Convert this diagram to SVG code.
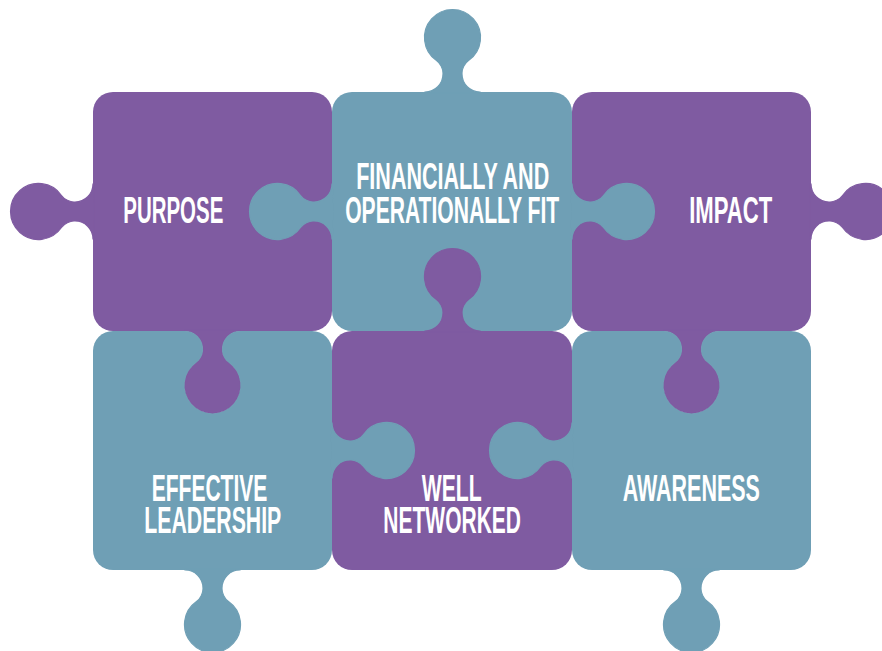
<svg xmlns="http://www.w3.org/2000/svg" xmlns:xlink="http://www.w3.org/1999/xlink" width="882" height="651" viewBox="0 0 882 651">
  <defs>
    <style>
      .purple { fill: #7F5BA1; }
      .teal { fill: #6F9FB5; }
      .tab-purple { fill: #7F5BA1; stroke: #7F5BA1; stroke-width: 1.2; }
      .tab-teal { fill: #6F9FB5; stroke: #6F9FB5; stroke-width: 1.2; }
      .label { fill: #FFFFFF; font-family: "Liberation Sans Narrow", "Liberation Sans", Arial, sans-serif; font-weight: bold; font-size: 36px; text-anchor: middle; }
    </style>
    <path id="tab" d="M -27.5,1 L -27.5,0 A 18 18 0 0 0 -9.5,-18 L -9.5,-19 C -9.5,-23 -11.9,-28.65 -16,-31.5 A 28 28 0 1 1 16,-31.5 C 11.9,-28.65 9.5,-23 9.5,-19 L 9.5,-18 A 18 18 0 0 0 27.5,0 L 27.5,1 Z"/>
    <mask id="mask-effective" maskUnits="userSpaceOnUse" x="0" y="0" width="882" height="651">
      <rect x="0" y="0" width="882" height="651" fill="#fff"/>
      <use xlink:href="#tab" href="#tab" transform="translate(212.5,331) rotate(180)" fill="#000"/>
    </mask>
    <mask id="mask-awareness" maskUnits="userSpaceOnUse" x="0" y="0" width="882" height="651">
      <rect x="0" y="0" width="882" height="651" fill="#fff"/>
      <use xlink:href="#tab" href="#tab" transform="translate(691.5,331) rotate(180)" fill="#000"/>
    </mask>
  </defs>

  <g id="node-purpose">
    <rect class="purple" x="93" y="92" width="239" height="239" rx="20"/>
    <use class="tab-purple" href="#tab" transform="translate(93,211.5) rotate(-90)"/>
    <use class="tab-purple" href="#tab" transform="translate(212.5,331) rotate(180)"/>
    <text class="label" x="173.3" y="223.3" textLength="100" lengthAdjust="spacingAndGlyphs">PURPOSE</text>
  </g>

  <g id="node-impact">
    <rect class="purple" x="572" y="92" width="239" height="239" rx="20"/>
    <use class="tab-purple" href="#tab" transform="translate(811,211.5) rotate(90)"/>
    <use class="tab-purple" href="#tab" transform="translate(691.5,331) rotate(180)"/>
    <text class="label" x="730.7" y="223.3" textLength="83" lengthAdjust="spacingAndGlyphs">IMPACT</text>
  </g>

  <g id="node-financially-fit">
    <rect class="teal" x="332" y="92" width="240" height="239" rx="20"/>
    <use class="tab-teal" href="#tab" transform="translate(452.5,92)"/>
    <use class="tab-teal" href="#tab" transform="translate(332,211.5) rotate(-90)"/>
    <use class="tab-teal" href="#tab" transform="translate(572,211.5) rotate(90)"/>
    <text class="label" x="452.7" y="189" textLength="193" lengthAdjust="spacingAndGlyphs">FINANCIALLY AND</text>
    <text class="label" x="452.2" y="222.7" textLength="214" lengthAdjust="spacingAndGlyphs">OPERATIONALLY FIT</text>
  </g>

  <g id="node-well-networked">
    <rect class="purple" x="332" y="331" width="240" height="239" rx="20"/>
    <use class="tab-purple" href="#tab" transform="translate(452.5,331)"/>
    <text class="label" x="451.7" y="501" textLength="60" lengthAdjust="spacingAndGlyphs">WELL</text>
    <text class="label" x="452.2" y="533.3" textLength="137.7" lengthAdjust="spacingAndGlyphs">NETWORKED</text>
  </g>

  <g id="node-effective-leadership">
    <rect class="teal" x="93" y="331" width="239" height="239" rx="20" mask="url(#mask-effective)"/>
    <use class="tab-teal" href="#tab" transform="translate(332,450.5) rotate(90)"/>
    <use class="tab-teal" href="#tab" transform="translate(212.5,570) rotate(180)"/>
    <text class="label" x="209.5" y="501" textLength="115.6" lengthAdjust="spacingAndGlyphs">EFFECTIVE</text>
    <text class="label" x="212.8" y="533.3" textLength="137" lengthAdjust="spacingAndGlyphs">LEADERSHIP</text>
  </g>

  <g id="node-awareness">
    <rect class="teal" x="572" y="331" width="239" height="239" rx="20" mask="url(#mask-awareness)"/>
    <use class="tab-teal" href="#tab" transform="translate(572,450.5) rotate(-90)"/>
    <use class="tab-teal" href="#tab" transform="translate(691.5,570) rotate(180)"/>
    <text class="label" x="691.3" y="501.3" textLength="137.3" lengthAdjust="spacingAndGlyphs">AWARENESS</text>
  </g>

  <g id="connectors"/>
</svg>
